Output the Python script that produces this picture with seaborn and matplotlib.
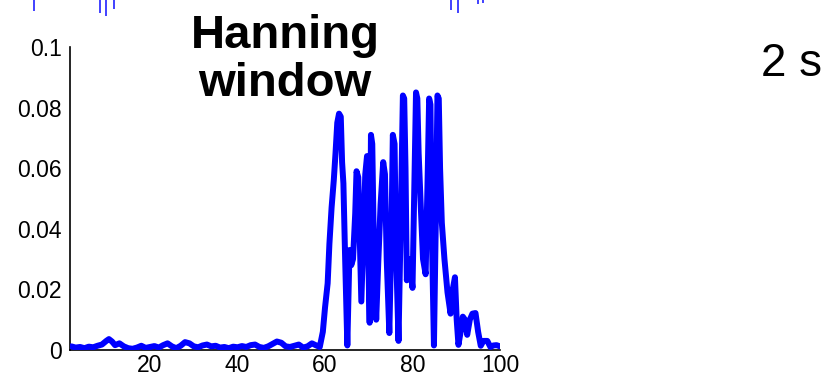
import matplotlib
matplotlib.use("Agg")
import matplotlib.pyplot as plt
import seaborn as sns
import pandas as pd

# spectrum magnitude (frequency bin, magnitude)
freq = [2, 3, 4, 5, 6, 7, 8, 9, 10, 10.6,
        11.3, 12, 13, 14, 15, 16, 17, 18, 19, 20,
        21, 22, 23, 24, 25, 26, 27, 28, 29, 30,
        31, 32, 33, 34, 35, 36, 37, 38, 39, 40,
        41, 42, 43, 44, 45, 46, 47, 48, 49, 50,
        51, 52, 53, 54, 55, 56, 57, 58, 58.8,
        59.5, 60, 60.6, 61, 61.5, 62, 62.4, 62.8, 63.2, 63.6,
        63.9, 64.2, 64.6, 65.1,
        65.6, 66.0, 66.4, 66.9, 67.2, 67.6, 67.9, 68.3, 68.8, 69.2,
        69.6, 69.9, 70.2, 70.5, 70.8, 71.1, 71.7, 72.2, 72.7, 73.3,
        73.7, 74.1, 74.7, 75.2, 75.5, 75.9, 76.2, 76.8, 77.4, 77.8,
        78.1, 78.4, 78.7, 79.3, 80.0, 80.5, 80.8, 81.1, 81.4, 81.9,
        82.4, 83.0, 83.5, 83.8, 84.1, 84.4, 84.9, 85.4, 85.7, 86.0,
        86.3, 86.7, 87.3, 88.0, 88.7, 89.2, 89.7, 90.1, 90.5, 91.0,
        91.5, 92.0, 92.5, 93.1, 93.7, 94.4, 95.0, 95.6, 96.2, 97.1,
        97.8, 98.5, 99.2, 100]
magnitude = [0.0012, 0.0008, 0.0010, 0.0006, 0.0011, 0.0009, 0.0014, 0.0018, 0.0030, 0.0036,
             0.0028, 0.0016, 0.0022, 0.0012, 0.0006, 0.0004, 0.0008, 0.0014, 0.0007, 0.0010,
             0.0013, 0.0008, 0.0016, 0.0022, 0.0012, 0.0006, 0.0014, 0.0026, 0.0022, 0.0012,
             0.0009, 0.0015, 0.0018, 0.0012, 0.0014, 0.0008, 0.0010, 0.0006, 0.0011, 0.0009,
             0.0013, 0.0010, 0.0016, 0.0018, 0.0010, 0.0007, 0.0012, 0.0020, 0.0028, 0.0024,
             0.0012, 0.0010, 0.0014, 0.0018, 0.0008, 0.0012, 0.0022, 0.0015, 0.0010,
             0.006, 0.014, 0.022, 0.035, 0.047, 0.056, 0.065, 0.075, 0.078, 0.077,
             0.062, 0.055, 0.030, 0.0015,
             0.033, 0.028, 0.030, 0.045, 0.059, 0.057, 0.040, 0.016, 0.040, 0.058,
             0.064, 0.030, 0.009, 0.071, 0.068, 0.040, 0.010, 0.030, 0.048, 0.062,
             0.058, 0.030, 0.0056, 0.040, 0.071, 0.068, 0.035, 0.003, 0.050, 0.084,
             0.083, 0.060, 0.023, 0.030, 0.0205, 0.060, 0.085, 0.083, 0.065, 0.047,
             0.030, 0.025, 0.060, 0.083, 0.081, 0.040, 0.0015, 0.050, 0.084, 0.083,
             0.060, 0.042, 0.030, 0.019, 0.012, 0.020, 0.024, 0.010, 0.0017, 0.006,
             0.011, 0.010, 0.005, 0.010, 0.012, 0.0122, 0.006, 0.0014, 0.003, 0.003,
             0.001, 0.0015, 0.0016, 0.0012]

x_ticks = [20, 40, 60, 80, 100]
y_ticks = [0, 0.02, 0.04, 0.06, 0.08, 0.1]
y_tick_labels = ["0", "0.02", "0.04", "0.06", "0.08", "0.1"]

# bits of the plot above that show at the top edge
top_spike_x = [34, 100, 106, 114, 451, 458, 478, 483]
top_spike_len = [11, 13, 16, 9, 10, 13, 4, 3]

sns.set_style("white")
plt.rcParams['font.family'] = ['Liberation Sans', 'DejaVu Sans']
plt.rcParams['text.color'] = 'black'
plt.rcParams['xtick.color'] = 'black'
plt.rcParams['ytick.color'] = 'black'

fig = plt.figure(figsize=(8.3, 3.79), dpi=100)

ax = fig.add_axes([70 / 830, 29 / 379, 430 / 830, 303 / 379])
df = pd.DataFrame({"freq": freq, "magnitude": magnitude})
sns.lineplot(data=df, x="freq", y="magnitude", ax=ax, color=(0, 0, 1), linewidth=4.3)

ax.set_xlim(1.7, 100)
ax.set_ylim(0, 0.1)
ax.set_xticks(x_ticks)
ax.set_xticklabels([str(t) for t in x_ticks])
ax.set_yticks(y_ticks)
ax.set_yticklabels(y_tick_labels)
ax.set_xlabel("")
ax.set_ylabel("")
ax.tick_params(direction="in", length=4, width=1, labelsize=16.5, pad=6,
               color="black", labelcolor="black")
ax.tick_params(axis="x", pad=3)
for side in ["top", "right"]:
    ax.spines[side].set_visible(False)
for side in ["left", "bottom"]:
    ax.spines[side].set_color("black")
    ax.spines[side].set_linewidth(1.2)
    ax.spines[side].set_zorder(0)

# top strip
top = fig.add_axes([0, 1 - 20 / 379, 1, 20 / 379])
top.set_xlim(0, 830)
top.set_ylim(20, 0)
top.vlines(top_spike_x, 0, top_spike_len, color=(0.2, 0.2, 1), linewidth=1.3)
top.axis("off")

fig.text(285 / 830, 1 - 60 / 379, "Hanning\nwindow", ha="center", va="center",
         fontsize=34, fontweight="bold", linespacing=1.1, color="black")
fig.text(791 / 830, 1 - 64 / 379, "2 s", ha="center", va="center", fontsize=33,
         color="black")

fig.savefig("out.png", dpi=100)
